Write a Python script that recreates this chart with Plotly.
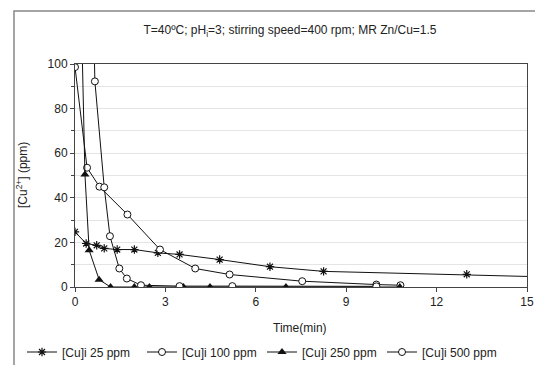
import plotly.graph_objects as go

# Data
t_25 = [0, 0.37, 0.72, 0.97, 1.4, 1.97, 2.75, 3.47, 4.8, 6.47, 8.25, 13.0, 16.0]
c_25 = [24.7, 19.5, 18.7, 17.3, 16.8, 16.8, 15.3, 14.6, 12.3, 9.1, 7.0, 5.7, 4.4]

t_100 = [0, 0.4, 0.81, 1.74, 2.82, 3.99, 5.13, 7.54, 10.0, 10.8]
c_100 = [98.6, 53.5, 45.0, 32.5, 16.8, 8.3, 5.6, 2.6, 1.1, 0.8]

t_250 = [0, 0.33, 0.47, 0.8, 1.18, 1.97, 2.47, 3.6, 4.48, 7.0, 10.78]
c_250 = [250, 50.5, 16.5, 3.3, 0, 0, 0, 0, 0, 0, 0]

t_500 = [0, 0.66, 0.97, 1.16, 1.47, 1.72, 2.19, 3.47, 5.22, 10.0]
c_500 = [500, 92.2, 44.7, 22.8, 8.3, 3.8, 0.8, 0.4, 0.4, 0.3]

names = ["[Cu]i 25 ppm", "[Cu]i 100 ppm", "[Cu]i 250 ppm", "[Cu]i 500 ppm"]
x_ticks = [0, 3, 6, 9, 12, 15]
y_ticks = [0, 20, 40, 60, 80, 100]

FONT = "Liberation Sans, Arial, sans-serif"
W, H = 535, 365
L, R, T, B = 75, 8, 64, 78
pw, ph = W - L - R, H - T - B

def px_x(px):
    return (px - L) / pw

def px_y(py):
    return (H - B - py) / ph

fig = go.Figure()
fig.add_trace(go.Scatter(x=t_25, y=c_25, name=names[0], mode="lines+markers",
                         line=dict(color="#111", width=1),
                         marker=dict(symbol="asterisk-open", size=7, color="#111",
                                     line=dict(color="#111", width=1.2))))
fig.add_trace(go.Scatter(x=t_100, y=c_100, name=names[1], mode="lines+markers",
                         line=dict(color="#111", width=1),
                         marker=dict(symbol="circle", size=7, color="white",
                                     line=dict(color="#111", width=1))))
fig.add_trace(go.Scatter(x=t_250, y=c_250, name=names[2], mode="lines+markers",
                         line=dict(color="#111", width=1),
                         marker=dict(symbol="triangle-up", size=8, color="#111",
                                     line=dict(color="#111", width=0))))
fig.add_trace(go.Scatter(x=t_500, y=c_500, name=names[3], mode="lines+markers",
                         line=dict(color="#111", width=1),
                         marker=dict(symbol="circle", size=7, color="white",
                                     line=dict(color="#111", width=1))))

fig.update_layout(
    width=W, height=H,
    margin=dict(l=L, r=R, t=T, b=B, autoexpand=False),
    paper_bgcolor="white", plot_bgcolor="white",
    font=dict(family=FONT, size=12, color="#222"),
    title=dict(text="T=40ºC; pH<sub>i</sub>=3; stirring speed=400 rpm; MR Zn/Cu=1.5",
               x=px_x(290), xref="paper", xanchor="center",
               y=1 - 30 / H, yref="container", yanchor="middle",
               font=dict(size=12, family=FONT, color="#222")),
    showlegend=True,
    legend=dict(orientation="h", xref="paper", yref="paper",
                x=px_x(22), xanchor="left", y=px_y(352), yanchor="middle",
                font=dict(size=12, family=FONT, color="#222"), bgcolor="rgba(0,0,0,0)",
                itemwidth=30, tracegroupgap=0, entrywidth=75, entrywidthmode="pixels"),
)
fig.update_xaxes(range=[0, 15], tickvals=x_ticks, showgrid=False, zeroline=False,
                 showline=True, linecolor="#444", linewidth=1, mirror=True,
                 ticks="outside", ticklen=4, tickcolor="#444",
                 tickfont=dict(size=12, family=FONT, color="#222"))
fig.update_yaxes(range=[0, 100], tickvals=y_ticks, showgrid=False, zeroline=False,
                 showline=True, linecolor="#444", linewidth=1, mirror=True,
                 ticks="outside", ticklen=4, tickcolor="#444",
                 tickfont=dict(size=12, family=FONT, color="#222"),
                 minor=dict(dtick=10, showgrid=True, gridcolor="#e4e4e4", gridwidth=1,
                            ticks="outside", ticklen=3, tickcolor="#444"))

fig.add_annotation(text="[Cu<sup>2+</sup>] (ppm)", textangle=-90, showarrow=False,
                   xref="paper", yref="paper", x=px_x(22), y=px_y(175),
                   xanchor="center", yanchor="middle",
                   font=dict(size=12, family=FONT, color="#222"))
fig.add_annotation(text="Time(min)", showarrow=False,
                   xref="paper", yref="paper", x=px_x(300), y=px_y(328),
                   xanchor="center", yanchor="middle",
                   font=dict(size=12, family=FONT, color="#222"))

# outer chart frame
fig.add_shape(type="rect", xref="paper", yref="paper",
              x0=px_x(14), y0=px_y(380), x1=px_x(550), y1=px_y(11),
              line=dict(color="#888", width=1.5), layer="below")

fig.write_html("out.html")
